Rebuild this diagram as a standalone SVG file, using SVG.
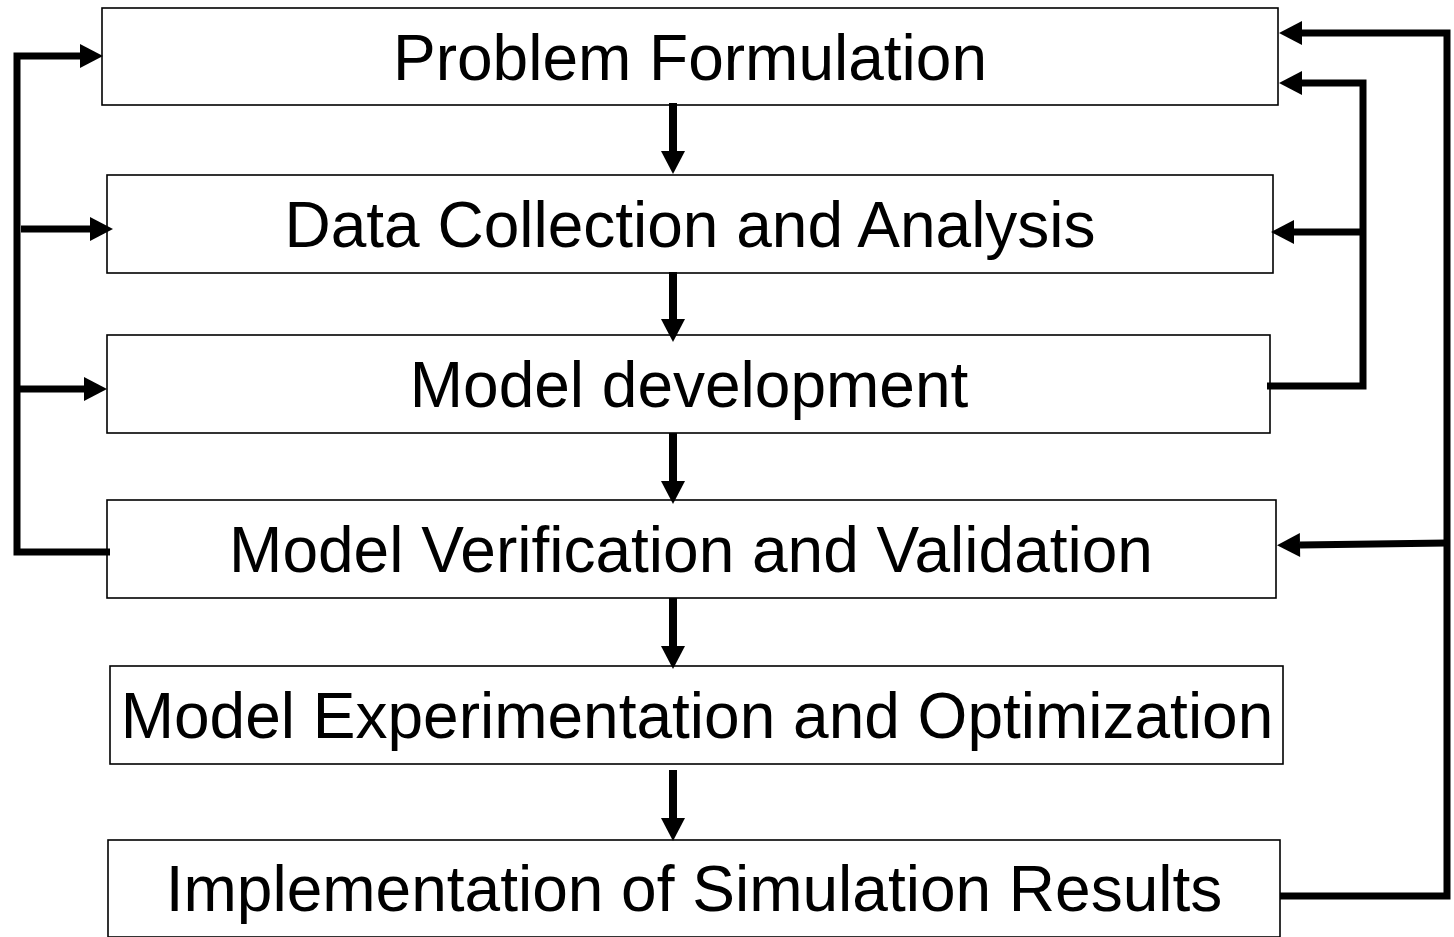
<svg xmlns="http://www.w3.org/2000/svg" width="1454" height="937" viewBox="0 0 1454 937">
  <style>
    .box { fill: #ffffff; stroke: #000000; stroke-width: 1.6; }
    .label { font-family: "Liberation Sans", Arial, sans-serif; font-size: 64px; fill: #000000; text-anchor: middle; }
    .wire { fill: none; stroke: #000000; stroke-width: 7; stroke-linejoin: miter; stroke-linecap: butt; }
    .down { fill: none; stroke: #000000; stroke-width: 8; }
  </style>
  <defs>
    <marker id="head" markerUnits="userSpaceOnUse" markerWidth="23" markerHeight="24" viewBox="0 0 23 24" refX="0" refY="12" orient="auto" overflow="visible">
      <path d="M0,0 L23,12 L0,24 Z" fill="#000000"/>
    </marker>
  </defs>
  <rect width="1454" height="937" fill="#ffffff"/>

  <g id="problem-formulation">
    <rect class="box" x="102" y="8" width="1176" height="97"/>
    <text class="label" x="690" y="80">Problem Formulation</text>
  </g>
  <g id="data-collection">
    <rect class="box" x="107" y="175" width="1166" height="98"/>
    <text class="label" x="690" y="247">Data Collection and Analysis</text>
  </g>
  <g id="model-development">
    <rect class="box" x="107" y="335" width="1163" height="98"/>
    <text class="label" x="689" y="407">Model development</text>
  </g>
  <g id="verification-validation">
    <rect class="box" x="107" y="500" width="1169" height="98"/>
    <text class="label" x="691" y="572">Model Verification and Validation</text>
  </g>
  <g id="experimentation-optimization">
    <rect class="box" x="110" y="666" width="1173" height="98"/>
    <text class="label" x="697" y="738">Model Experimentation and Optimization</text>
  </g>
  <g id="implementation">
    <rect class="box" x="108" y="840" width="1172" height="97"/>
    <text class="label" x="694" y="911">Implementation of Simulation Results</text>
  </g>

  <g id="connectors">
    <!-- main downward flow -->
    <path class="down" d="M673,103 V151" marker-end="url(#head)"/>
    <path class="down" d="M673,272 V319" marker-end="url(#head)"/>
    <path class="down" d="M673,433 V481" marker-end="url(#head)"/>
    <path class="down" d="M673,598 V646" marker-end="url(#head)"/>
    <path class="down" d="M673,770 V818" marker-end="url(#head)"/>

    <!-- left feedback from verification -->
    <path class="wire" d="M110,552 H17 V56 H80" marker-end="url(#head)"/>
    <path class="wire" d="M21,229 H90" marker-end="url(#head)"/>
    <path class="wire" d="M17,389 H84" marker-end="url(#head)"/>

    <!-- right feedback from model development -->
    <path class="wire" d="M1267,386 H1363 V83 H1302" marker-end="url(#head)"/>
    <path class="wire" d="M1363,232 H1294" marker-end="url(#head)"/>

    <!-- outer feedback from implementation -->
    <path class="wire" d="M1280,896 H1447 V33 H1302" marker-end="url(#head)"/>
    <path class="wire" d="M1447,543 L1300,545" marker-end="url(#head)"/>
  </g>
</svg>
